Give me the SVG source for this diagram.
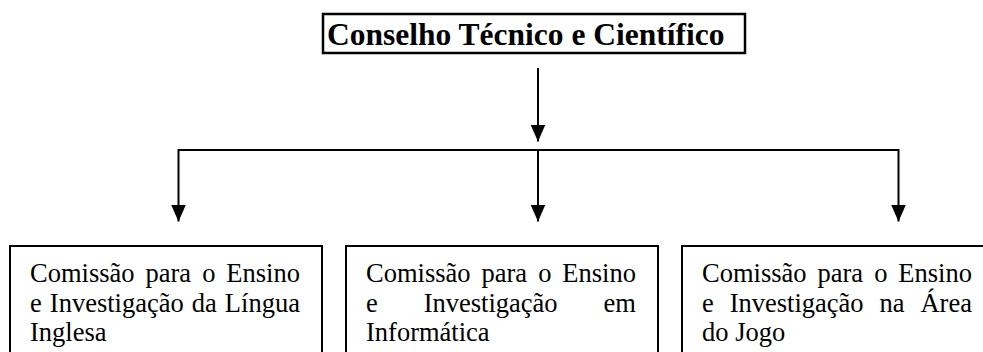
<svg xmlns="http://www.w3.org/2000/svg" width="983" height="352" viewBox="0 0 983 352">
<defs>
<style>
.box{fill:#fff;stroke:#000;stroke-width:2}
.title{font-family:"Liberation Serif","Times New Roman",serif;font-weight:bold;font-size:31.5px;fill:#000}
.t{font-family:"Liberation Serif","Times New Roman",serif;font-size:26.5px;fill:#000}
.c{stroke:#000;stroke-width:2;fill:none}
</style>
<marker id="ah" viewBox="0 0 17 15" refX="17" refY="7.5" markerWidth="17" markerHeight="15" markerUnits="userSpaceOnUse" orient="auto">
<path d="M0,0 L17,7.5 L0,15 Z" fill="#000"/>
</marker>
</defs>
<rect width="983" height="352" fill="#fff"/>
<g id="conselho">
<rect x="323" y="14" width="422" height="39" fill="#fff" stroke="#000" stroke-width="2.5"/>
<text class="title" x="327" y="45">Conselho Técnico e Científico</text>
</g>
<g id="connectors">
<line class="c" x1="538" y1="68" x2="538" y2="141.5" marker-end="url(#ah)"/>
<polyline class="c" points="178.5,150 898.5,150"/>
<line class="c" x1="178.5" y1="149" x2="178.5" y2="221.5" marker-end="url(#ah)"/>
<line class="c" x1="538" y1="150" x2="538" y2="221.5" marker-end="url(#ah)"/>
<line class="c" x1="898.5" y1="149" x2="898.5" y2="221.5" marker-end="url(#ah)"/>
</g>
<g id="comissao-lingua-inglesa">
<rect class="box" x="10" y="246" width="312" height="120"/>
<text class="t" x="30" y="282" word-spacing="4.37">Comissão para o Ensino</text>
<text class="t" x="30" y="311.5" word-spacing="1.43">e Investigação da Língua</text>
<text class="t" x="30" y="341">Inglesa</text>
</g>
<g id="comissao-informatica">
<rect class="box" x="346" y="246" width="312" height="120"/>
<text class="t" x="366" y="282" word-spacing="4.37">Comissão para o Ensino</text>
<text class="t" x="366" y="311.5" word-spacing="39.3">e Investigação em</text>
<text class="t" x="366" y="341">Informática</text>
</g>
<g id="comissao-jogo">
<rect class="box" x="682" y="246" width="312" height="120"/>
<text class="t" x="702" y="282" word-spacing="4.37">Comissão para o Ensino</text>
<text class="t" x="702" y="311.5" word-spacing="9.3">e Investigação na Área</text>
<text class="t" x="702" y="341">do Jogo</text>
</g>
</svg>
